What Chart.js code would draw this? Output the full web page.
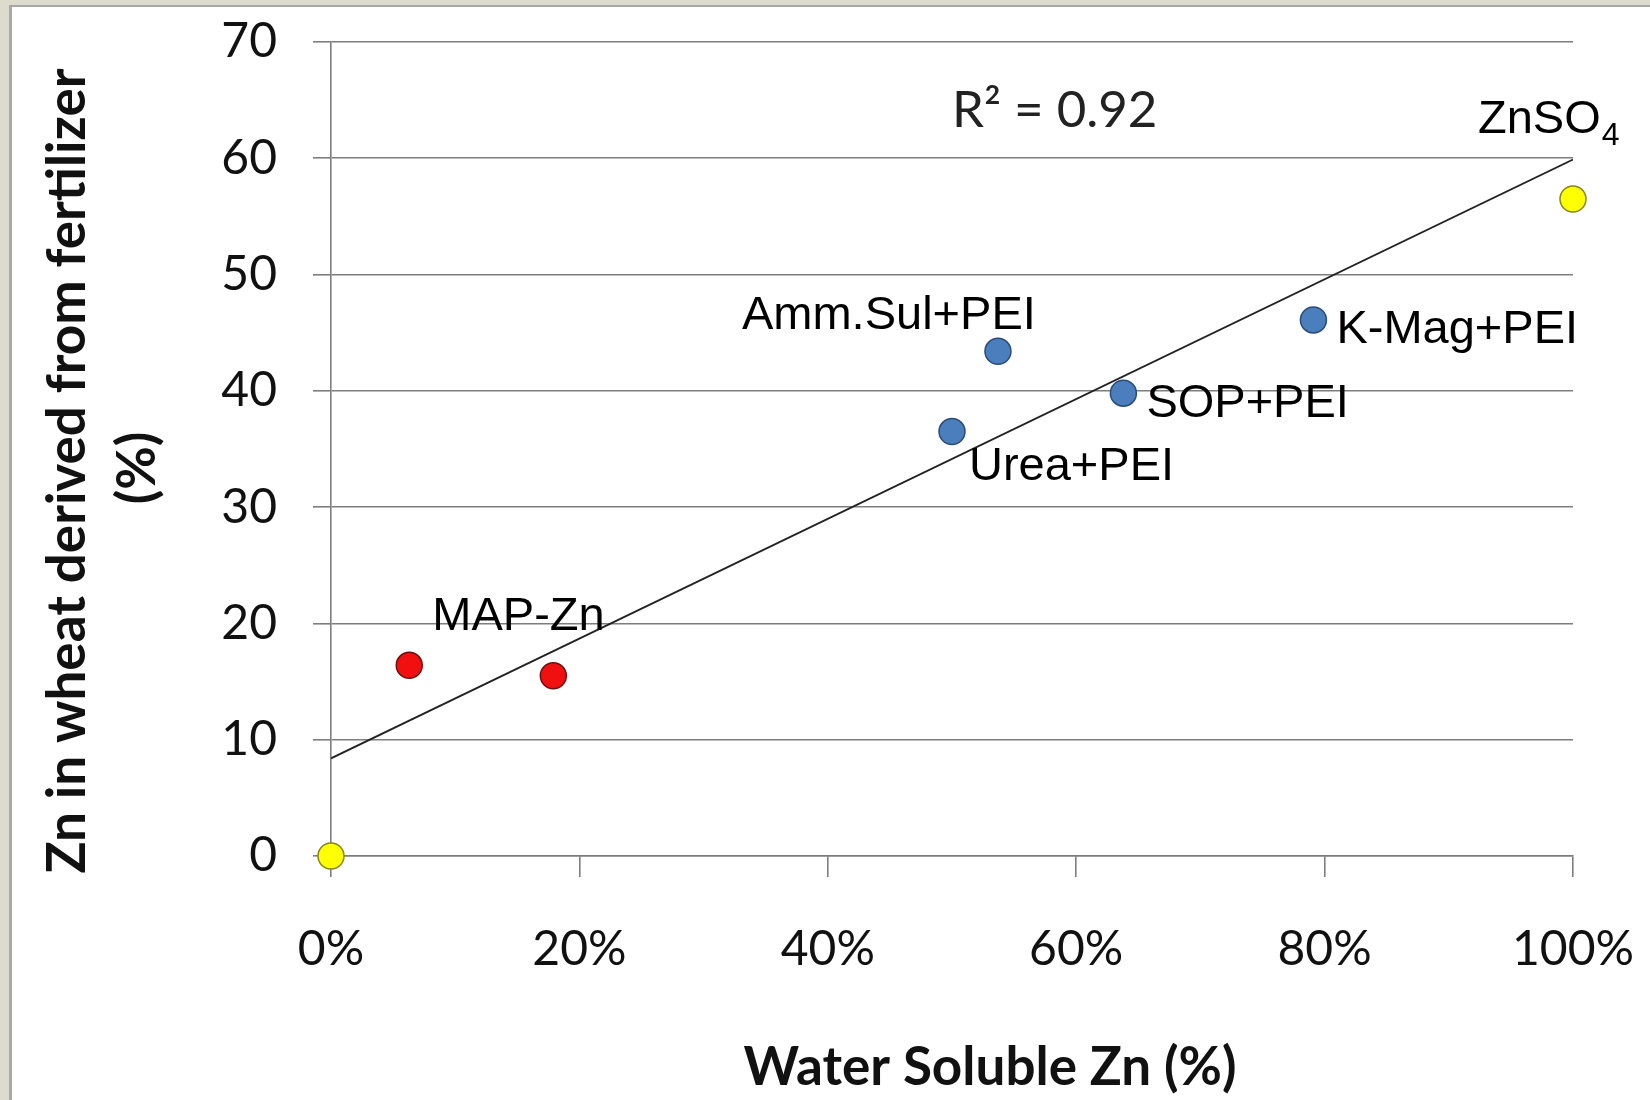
<!DOCTYPE html>
<html>
<head>
<meta charset="utf-8">
<title>Zn uptake vs water solubility</title>
<script src="https://cdn.jsdelivr.net/npm/chart.js@4.4.1/dist/chart.umd.min.js"></script>
<style>
  html, body { margin: 0; padding: 0; width: 1650px; height: 1100px; overflow: hidden; background: #dcdbcc; }
  #panel { position: absolute; left: 9px; top: 5px; width: 1641px; height: 1095px; background: #fff;
           border-left: 3px solid #a8a8a8; border-top: 2px solid #a8a8a8; box-sizing: border-box; }
  #chart { position: absolute; left: 0; top: 0; }
</style>
</head>
<body>
<div id="panel"></div>
<canvas id="chart" width="1650" height="1100"></canvas>
<script>
// ---- data ----
const xTickValues = [0, 20, 40, 60, 80, 100];
const yTickValues = [0, 10, 20, 30, 40, 50, 60, 70];

const yellowX = [0, 100];
const yellowY = [0, 56.5];
const yellowNames = ['', 'ZnSO_4'];

const redX = [6.3, 17.9];
const redY = [16.4, 15.5];
const redNames = ['', 'MAP-Zn'];

const blueX = [50.0, 53.7, 63.8, 79.1];
const blueY = [36.5, 43.4, 39.8, 46.1];
const blueNames = ['Urea+PEI', 'Amm.Sul+PEI', 'SOP+PEI', 'K-Mag+PEI'];

const trendX = [0, 100];
const trendY = [8.4, 59.9];
const rSquaredText = 'R\u00B2 = 0.92';

const xTitle = 'Water Soluble Zn (%)';
const yTitleLines = ['Zn in wheat derived from fertilizer', '(%)'];

// ---- label placement (pixels from marker centre to text start / baseline) ----
const yellowShift = [null, [-95, -66]];
const redShift = [null, [-121, -46]];
const blueShift = [[17, 48], [-256, -22], [23, 24], [23, 23]];

const toPoints = (xs, ys) => xs.map((x, i) => ({ x: x, y: ys[i] }));

const GRID = '#7e7e7e';
const TICK_FONT = { family: 'Lato', size: 48 };

// Draws point names, the R² note and both axis titles.
const annotations = {
  id: 'annotations',
  afterDatasetsDraw(chart) {
    const ctx = chart.ctx;
    const area = chart.chartArea;
    ctx.save();
    ctx.fillStyle = '#000';
    ctx.textBaseline = 'alphabetic';
    ctx.textAlign = 'left';

    chart.data.datasets.forEach((ds, di) => {
      if (!ds.names) return;
      const meta = chart.getDatasetMeta(di);
      meta.data.forEach((el, i) => {
        const name = ds.names[i];
        const shift = ds.shift[i];
        if (!name || !shift) return;
        const x = el.x + shift[0];
        const y = el.y + shift[1];
        const parts = name.split('_');
        ctx.font = '47px "Liberation Sans", Arial, sans-serif';
        ctx.fillText(parts[0], x, y);
        if (parts[1]) {
          const w = ctx.measureText(parts[0]).width;
          ctx.font = '32px "Liberation Sans", Arial, sans-serif';
          ctx.fillText(parts[1], x + w + 1, y + 12);
        }
      });
    });

    // R² note beside the trend line
    ctx.font = '51px Lato, sans-serif';
    ctx.fillStyle = '#222';
    ctx.fillText(rSquaredText, area.left + area.width * 0.5, area.top + 85);

    // axis titles
    ctx.fillStyle = '#111';
    ctx.font = 'bold 53px Lato, sans-serif';
    ctx.textAlign = 'center';
    ctx.fillText(xTitle, 990, 1085);

    ctx.font = 'bold 53px Lato, sans-serif';
    const yCentres = [[85, 471], [155, 468]];
    yTitleLines.forEach((line, i) => {
      ctx.save();
      ctx.translate(yCentres[i][0], yCentres[i][1]);
      ctx.rotate(-Math.PI / 2);
      ctx.fillText(line, 0, 0);
      ctx.restore();
    });
    ctx.restore();
  }
};

new Chart(document.getElementById('chart'), {
  type: 'scatter',
  data: {
    datasets: [
      {
        type: 'line',
        data: toPoints(trendX, trendY),
        borderColor: '#222',
        borderWidth: 1.8,
        pointRadius: 0,
        fill: false,
        order: 5
      },
      {
        data: toPoints(redX, redY),
        names: redNames, shift: redShift,
        backgroundColor: '#f01010', borderColor: '#6e1010',
        borderWidth: 1.5, pointRadius: 13, order: 1, clip: false
      },
      {
        data: toPoints(blueX, blueY),
        names: blueNames, shift: blueShift,
        backgroundColor: '#4a7ebd', borderColor: '#2c4c78',
        borderWidth: 1.5, pointRadius: 13, order: 1, clip: false
      },
      {
        data: toPoints(yellowX, yellowY),
        names: yellowNames, shift: yellowShift,
        backgroundColor: '#ffff00', borderColor: '#86861a',
        borderWidth: 1.5, pointRadius: 13, order: 1, clip: false
      }
    ]
  },
  options: {
    responsive: false,
    animation: false,
    devicePixelRatio: 1,
    layout: { padding: { top: 42, right: 77, left: 0, bottom: 0 } },
    plugins: { legend: { display: false }, tooltip: { enabled: false } },
    scales: {
      x: {
        type: 'linear', position: 'bottom', min: 0, max: 100,
        afterFit(scale) { scale.height = 244; scale.paddingLeft = 0; scale.paddingRight = 0; },
        afterBuildTicks(scale) { scale.ticks = xTickValues.map(v => ({ value: v })); },
        ticks: { callback: v => v + '%', font: TICK_FONT, color: '#111', padding: 44, maxRotation: 0 },
        grid: { drawOnChartArea: false, drawTicks: true, tickLength: 21, color: GRID, lineWidth: 1.6 },
        border: { color: GRID, width: 1.6 }
      },
      y: {
        type: 'linear', position: 'left', min: 0, max: 70,
        afterFit(scale) { scale.width = 331; scale.paddingTop = 0; scale.paddingBottom = 0; },
        afterBuildTicks(scale) { scale.ticks = yTickValues.map(v => ({ value: v })); },
        ticks: { font: TICK_FONT, color: '#111', padding: 36 },
        grid: { color: GRID, lineWidth: 1.6, drawTicks: true, tickLength: 18 },
        border: { color: GRID, width: 1.6 }
      }
    }
  },
  plugins: [annotations]
});
</script>
</body>
</html>
